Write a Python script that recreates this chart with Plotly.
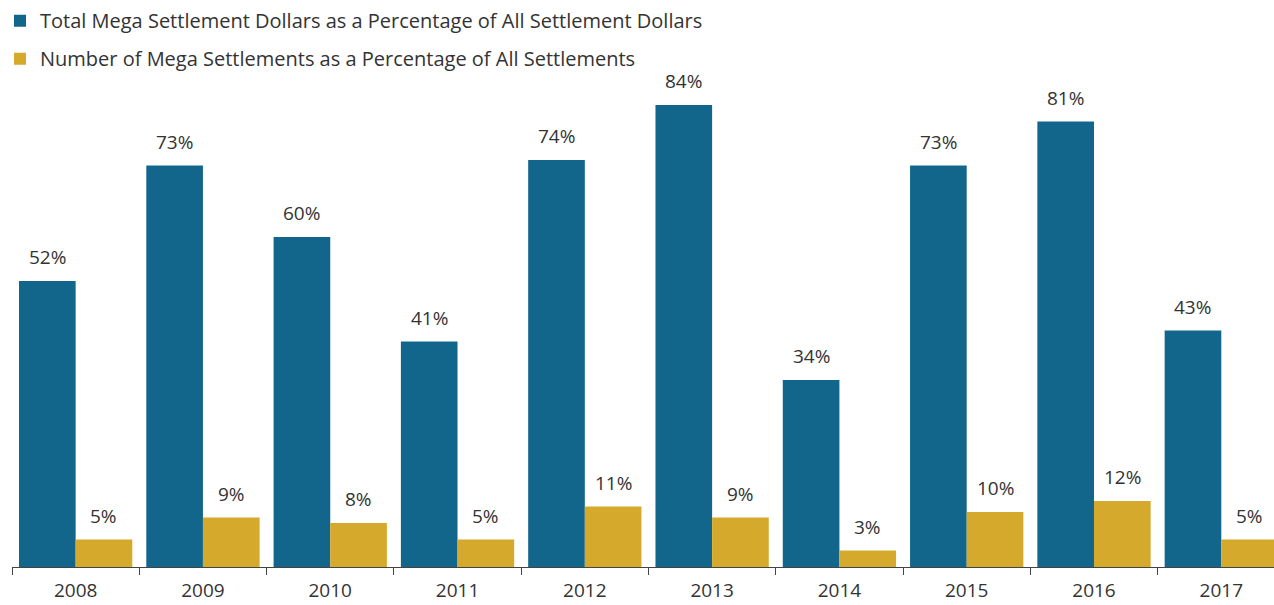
import plotly.graph_objects as go

years = ["2008", "2009", "2010", "2011", "2012", "2013", "2014", "2015", "2016", "2017"]
dollar_share = [52, 73, 60, 41, 74, 84, 34, 73, 81, 43]
count_share = [5, 9, 8, 5, 11, 9, 3, 10, 12, 5]

series_names = [
    "Total Mega Settlement Dollars as a Percentage of All Settlement Dollars",
    "Number of Mega Settlements as a Percentage of All Settlements",
]
colors = ["#12668B", "#D5A92C"]

FONT = "Open Sans"
TEXT_COLOR = "#333333"
WIDTH, HEIGHT = 1274, 605

fig = go.Figure()
for i, (name, vals) in enumerate(zip(series_names, [dollar_share, count_share])):
    fig.add_trace(go.Bar(
        x=years, y=vals, name=name, marker_color=colors[i],
        marker_line_width=0, legendgroup=f"g{i}",
        offsetgroup=str(i),
    ))

# value labels above each bar
BAR_HALF = (1 - 0.11) / 4
annotations = []
for i, vals in enumerate([dollar_share, count_share]):
    for j, v in enumerate(vals):
        annotations.append(dict(
            x=j + (-BAR_HALF if i == 0 else BAR_HALF), y=v, xref="x", yref="y",
            text=f"{v}%", showarrow=False, yanchor="bottom", yshift=9,
            font=dict(family=FONT, size=19, color=TEXT_COLOR),
        ))

fig.update_layout(
    width=WIDTH, height=HEIGHT,
    margin=dict(l=0, r=0, t=0, b=38),
    paper_bgcolor="white", plot_bgcolor="white",
    barmode="group", bargap=0.11, bargroupgap=0,
    font=dict(family=FONT, size=19, color=TEXT_COLOR),
    annotations=annotations,
    showlegend=True,
    legend=dict(
        orientation="v", xref="paper", yref="paper",
        x=0, y=0.998, xanchor="left", yanchor="top",
        font=dict(family=FONT, size=20, color=TEXT_COLOR),
        tracegroupgap=9, bgcolor="rgba(0,0,0,0)",
    ),
    xaxis=dict(
        type="category", range=[-0.5, 9.414], automargin=False,
        domain=[12 / WIDTH, 1],
        showline=True, linecolor="#444444", linewidth=1,
        ticks="outside", tickson="boundaries", ticklen=7,
        tickcolor="#444444", showgrid=False, ticklabelstandoff=6,
        tickfont=dict(family=FONT, size=19, color=TEXT_COLOR),
    ),
    yaxis=dict(range=[0, 567 / 5.5], visible=False, showgrid=False,
               zeroline=False, automargin=False),
)

fig.write_html("out.html")
